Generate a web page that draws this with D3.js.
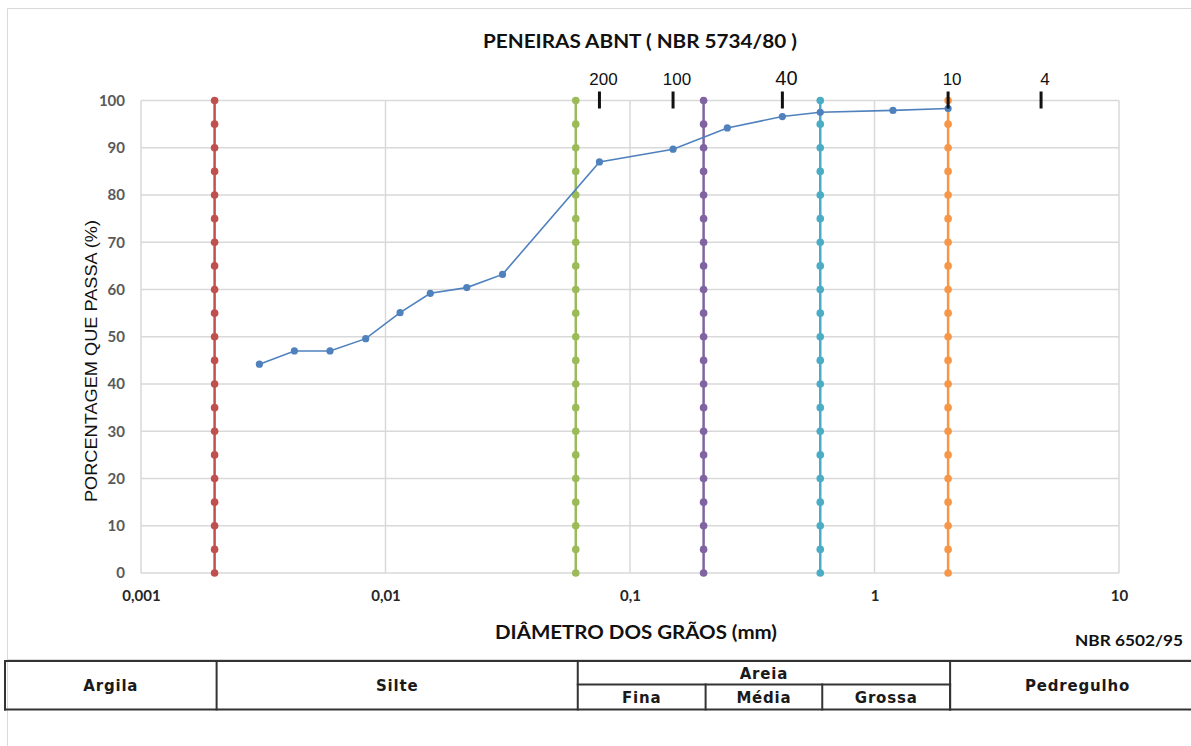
<!DOCTYPE html>
<html>
<head>
<meta charset="utf-8">
<script src="https://cdn.jsdelivr.net/npm/d3@7"></script>
<style>
  html, body { margin: 0; padding: 0; background: #ffffff; }
  svg { display: block; }
</style>
</head>
<body>
<svg id="chart" width="1191" height="746"></svg>
<script>
// Grain-size distribution curve (sample): diameter in mm, percent passing
const grainDiameter = [0.00305, 0.00424, 0.00593, 0.0083, 0.01147, 0.01525, 0.0215, 0.0301,
                       0.075, 0.15, 0.25, 0.42, 0.6, 1.19, 2.0];
const percentPassing = [44.2, 47.0, 47.0, 49.6, 55.1, 59.2, 60.4, 63.2,
                        87.0, 89.7, 94.2, 96.6, 97.5, 97.9, 98.3];

// NBR 6502/95 class limits (mm), drawn as vertical marker lines
const classLimits = [0.002, 0.06, 0.2, 0.6, 2.0];
const limitLevels = [0, 5, 10, 15, 20, 25, 30, 35, 40, 45, 50, 55, 60, 65, 70, 75, 80, 85, 90, 95, 100];

// ABNT sieves (NBR 5734/80)
const sieveNames = ["200", "100", "40", "10", "4"];
const sieveOpenings = [0.075, 0.15, 0.42, 2.0, 4.8];

// Axis ticks
const xTickValues = [0.001, 0.01, 0.1, 1, 10];
const xTickLabels = ["0,001", "0,01", "0,1", "1", "10"];
const yTickValues = [0, 10, 20, 30, 40, 50, 60, 70, 80, 90, 100];

// Soil classification table
const soilClasses = [
  { name: "Argila", from: null, to: 0.002, row: "full" },
  { name: "Silte", from: 0.002, to: 0.06, row: "full" },
  { name: "Areia", from: 0.06, to: 2.0, row: "top" },
  { name: "Fina", from: 0.06, to: 0.2, row: "bottom" },
  { name: "Média", from: 0.2, to: 0.6, row: "bottom" },
  { name: "Grossa", from: 0.6, to: 2.0, row: "bottom" },
  { name: "Pedregulho", from: 2.0, to: null, row: "full" }
];

const limitColors = ["#C0504D", "#9BBB59", "#8064A2", "#4BACC6", "#F79646"];
const curveColor = "#4F81BD";

const svg = d3.select("#chart");
const W = 1191, H = 746;
const plot = { left: 141, right: 1119, top: 100.5, bottom: 573 };

const x = d3.scaleLog().domain([0.001, 10]).range([plot.left, plot.right]);
const y = d3.scaleLinear().domain([0, 100]).range([plot.bottom, plot.top]);

const titleFont = "Lato, 'Liberation Sans', sans-serif";

// chart frame
svg.append("path")
  .attr("d", `M7.5,${H} V8.5 H${W} M7.5,659.5 H${W}`)
  .attr("fill", "none").attr("stroke", "#d9d9d9").attr("stroke-width", 1);

// horizontal gridlines
svg.append("g").selectAll("line").data(yTickValues).join("line")
  .attr("x1", plot.left).attr("x2", plot.right)
  .attr("y1", d => y(d)).attr("y2", d => y(d))
  .attr("stroke", "#d9d9d9").attr("stroke-width", 1.5);

// vertical gridlines (decades)
svg.append("g").selectAll("line").data(xTickValues).join("line")
  .attr("x1", d => x(d)).attr("x2", d => x(d))
  .attr("y1", plot.top).attr("y2", plot.bottom)
  .attr("stroke", "#d9d9d9").attr("stroke-width", 1.5);

// y axis labels
const yAxis = d3.axisLeft(y).tickValues(yTickValues).tickSize(0).tickPadding(16);
const gy = svg.append("g").attr("transform", `translate(${plot.left},0)`).call(yAxis);
gy.select(".domain").remove();
gy.selectAll("text")
  .attr("font-family", titleFont).attr("font-weight", "bold")
  .attr("font-size", 15).attr("fill", "#595959");

// x axis labels
const xAxis = d3.axisBottom(x).tickValues(xTickValues).tickSize(0).tickPadding(17)
  .tickFormat((d, i) => xTickLabels[i]);
const gx = svg.append("g").attr("transform", `translate(0,${plot.bottom})`).call(xAxis);
gx.select(".domain").remove();
gx.selectAll("text")
  .attr("font-family", titleFont).attr("font-weight", "bold")
  .attr("font-size", 15).attr("fill", "#262626");

// class limit lines with markers
const limitG = svg.append("g").selectAll("g").data(classLimits).join("g");
limitG.append("line")
  .attr("x1", d => x(d)).attr("x2", d => x(d))
  .attr("y1", y(limitLevels[0])).attr("y2", y(limitLevels[limitLevels.length - 1]))
  .attr("stroke", (d, i) => limitColors[i]).attr("stroke-width", 2.5);
limitG.each(function (d, i) {
  d3.select(this).selectAll("circle").data(limitLevels).join("circle")
    .attr("cx", x(d)).attr("cy", v => y(v)).attr("r", 3.8)
    .attr("fill", limitColors[i]);
});

// grain-size curve
const curve = grainDiameter.map((d, i) => [d, percentPassing[i]]);
svg.append("path").datum(curve)
  .attr("d", d3.line().x(d => x(d[0])).y(d => y(d[1])))
  .attr("fill", "none").attr("stroke", curveColor).attr("stroke-width", 1.6);
svg.append("g").selectAll("circle").data(curve).join("circle")
  .attr("cx", d => x(d[0])).attr("cy", d => y(d[1])).attr("r", 3.6)
  .attr("fill", curveColor);

// sieve marks above the plot
const sieveG = svg.append("g").selectAll("g").data(sieveOpenings).join("g")
  .attr("transform", d => `translate(${x(d)},0)`);
sieveG.append("line")
  .attr("y1", y(100) - 9).attr("y2", y(100) + 8)
  .attr("stroke", "#111").attr("stroke-width", 3);
sieveG.append("text")
  .attr("x", 4).attr("y", 85)
  .attr("text-anchor", "middle")
  .attr("font-family", "'Liberation Sans', Arial, sans-serif")
  .attr("font-size", (d, i) => sieveNames[i] === "40" ? 20 : 17)
  .attr("fill", "#111")
  .text((d, i) => sieveNames[i]);

// titles
svg.append("text")
  .attr("x", 640).attr("y", 48).attr("text-anchor", "middle")
  .attr("font-family", titleFont).attr("font-weight", "bold").attr("font-size", 18)
  .attr("fill", "#111").attr("textLength", 314).attr("lengthAdjust", "spacingAndGlyphs")
  .text("PENEIRAS ABNT ( NBR 5734/80 )");

svg.append("text")
  .attr("x", 636).attr("y", 639).attr("text-anchor", "middle")
  .attr("font-family", titleFont).attr("font-weight", "bold").attr("font-size", 18)
  .attr("fill", "#111").attr("textLength", 282).attr("lengthAdjust", "spacingAndGlyphs")
  .text("DIÂMETRO DOS GRÃOS (mm)");

svg.append("text")
  .attr("transform", "translate(97,361) rotate(-90)").attr("text-anchor", "middle")
  .attr("font-family", "'Liberation Sans', Arial, sans-serif").attr("font-size", 17)
  .attr("fill", "#111").attr("textLength", 282).attr("lengthAdjust", "spacingAndGlyphs")
  .text("PORCENTAGEM QUE PASSA (%)");

svg.append("text")
  .attr("x", 1183).attr("y", 646).attr("text-anchor", "end")
  .attr("font-family", titleFont).attr("font-weight", "bold").attr("font-size", 16)
  .attr("fill", "#111").attr("textLength", 108).attr("lengthAdjust", "spacingAndGlyphs")
  .text("NBR 6502/95");

// classification table
const table = { top: 661, mid: 684.5, bottom: 709.5, left: 5, right: W + 5 };
const colX = d => d === null ? null : x(d) + 2;
const tableG = svg.append("g");
const edges = [];
edges.push([table.left, table.top, table.right, table.top]);
edges.push([table.left, table.bottom, table.right, table.bottom]);
edges.push([table.left, table.top, table.left, table.bottom]);
edges.push([colX(0.06), table.mid, colX(2.0), table.mid]);
soilClasses.forEach(c => {
  if (c.to !== null) {
    const yTop = c.row === "bottom" ? table.mid : table.top;
    edges.push([colX(c.to), yTop, colX(c.to), table.bottom]);
  }
});
tableG.selectAll("line").data(edges).join("line")
  .attr("x1", d => d[0]).attr("y1", d => d[1]).attr("x2", d => d[2]).attr("y2", d => d[3])
  .attr("stroke", "#333").attr("stroke-width", 2).attr("stroke-linecap", "square");

tableG.selectAll("text").data(soilClasses).join("text")
  .attr("x", c => {
    const a = c.from === null ? table.left : colX(c.from);
    const b = c.to === null ? 1205 : colX(c.to);
    return (a + b) / 2;
  })
  .attr("y", c => c.row === "full" ? (table.top + table.bottom) / 2
                 : c.row === "top" ? (table.top + table.mid) / 2 + 1
                 : (table.mid + table.bottom) / 2 + 1)
  .attr("dy", "0.36em").attr("text-anchor", "middle")
  .attr("font-family", "'DejaVu Sans', Verdana, sans-serif").attr("font-weight", "bold")
  .attr("font-size", 15).attr("letter-spacing", 0.8).attr("fill", "#1a1a1a")
  .text(c => c.name);
</script>
</body>
</html>
